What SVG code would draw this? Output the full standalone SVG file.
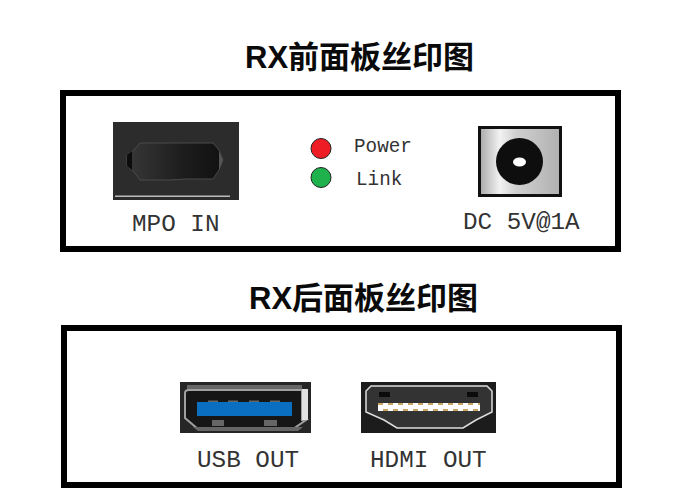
<svg xmlns="http://www.w3.org/2000/svg" width="700" height="500" viewBox="0 0 700 500">
<defs>
<linearGradient id="metal" x1="0" x2="1" y1="0" y2="0">
<stop offset="0" stop-color="#a8a8a8"/><stop offset="0.25" stop-color="#f2f2f2"/><stop offset="0.45" stop-color="#d0d0d0"/><stop offset="1" stop-color="#b0b0b0"/>
</linearGradient>
<linearGradient id="cavity" x1="0" x2="1" y1="0" y2="0">
<stop offset="0" stop-color="#383838"/><stop offset="0.6" stop-color="#1c1c1c"/><stop offset="1" stop-color="#111"/>
</linearGradient>
</defs>
<style>
.title{font-family:"Liberation Sans","Noto Sans CJK SC",sans-serif;font-weight:700;font-size:31px;fill:#0a0a0a}
.label{font-family:"Liberation Mono","Noto Sans CJK SC",monospace;font-size:24.300px;fill:#333}
.small{font-family:"Liberation Mono","Noto Sans CJK SC",monospace;font-size:19.300px;fill:#333}
.panel{fill:#fff;stroke:#000;stroke-width:6}
.led{stroke:#222;stroke-width:1}
</style>
<rect width="700" height="500" fill="#fff"/>
<text class="title" x="245" y="68">RX前面板丝印图</text>
<text class="title" x="249" y="309">RX后面板丝印图</text>
<g id="panel-front"><rect class="panel" x="63" y="93" width="555" height="156"/></g>
<g id="panel-back"><rect class="panel" x="64" y="328" width="555" height="157"/></g>
<g id="mpo-in">
<rect x="113" y="122" width="126" height="78" fill="#2c2c2c"/>
<rect x="115" y="195.500" width="115" height="1.500" fill="#bbb"/>
<path d="M140 143H213L219 150L223 160L219 170L213 179H186L170 180H140L134 172L127 166V155L134 150Z" fill="url(#cavity)" stroke="#4a4a4a" stroke-width="1"/>
<path d="M127 155L132 151V170L127 166Z" fill="#0c0c0c"/>
<path d="M219 151L223 160L219 170Z" fill="#555"/>
<text class="label" x="132" y="231">MPO IN</text>
</g>
<g id="led-power">
<circle class="led" cx="321" cy="148.500" r="10" fill="#ee1c25"/>
<text class="small" x="354" y="152">Power</text>
</g>
<g id="led-link">
<circle class="led" cx="321" cy="177.500" r="10" fill="#1fb14c"/>
<text class="small" x="356" y="185">Link</text>
</g>
<g id="dc-in">
<rect x="479.500" y="127.500" width="81" height="68" fill="url(#metal)" stroke="#111" stroke-width="3"/>
<circle cx="519.500" cy="161.500" r="23.500" fill="#0e0e0e"/>
<ellipse cx="519.500" cy="162" rx="6.500" ry="4.500" fill="#fff"/>
<text class="label" x="463" y="229">DC 5V@1A</text>
</g>
<g id="usb-out">
<rect x="180" y="382" width="131" height="51" fill="#262626"/>
<path d="M187 385H302V393H187Z" fill="#666"/>
<path d="M208 391H226V393H208ZM261 391H279V393H261Z" fill="#262626"/>
<path d="M185 393Q185 390 189 390H302V420H306L293 429H198L185 418Z" fill="#161616" stroke="#a0a0a0" stroke-width="2"/>
<path d="M193 427H303L298 431H198Z" fill="#666"/>
<rect x="302" y="389" width="6" height="31" fill="#e2e2e2"/>
<path d="M208 400.500h10v1.500h-10zM228 400.500h10v1.500h-10zM249 400.500h10v1.500h-10zM270 400.500h10v1.500h-10z" fill="#666"/>
<rect x="197" y="402" width="95" height="14" fill="#0a6fc0"/>
<rect x="212" y="420" width="12" height="6" fill="#666"/>
<rect x="264" y="420" width="13" height="6" fill="#666"/>
<text class="label" x="197" y="467">USB OUT</text>
</g>
<g id="hdmi-out">
<rect x="361" y="382" width="135" height="51" fill="#1c1c1c"/>
<path d="M371 386H487L492 391V412L476 420L463 428H397L384 420L366 412V391Z" fill="#333" stroke="#ddd" stroke-width="1.500"/>
<rect x="379" y="392" width="11" height="5" fill="#0b0b0b"/>
<rect x="467" y="392" width="11" height="5" fill="#0b0b0b"/>
<rect x="378" y="403" width="102" height="8" fill="#fff"/>
<line x1="378" x2="480" y1="404" y2="404" stroke="#b88a2e" stroke-width="1.500" stroke-dasharray="5 5"/>
<line x1="383" x2="480" y1="410" y2="410" stroke="#b88a2e" stroke-width="1.500" stroke-dasharray="5 5"/>
<text class="label" x="370" y="467">HDMI OUT</text>
</g>
</svg>
